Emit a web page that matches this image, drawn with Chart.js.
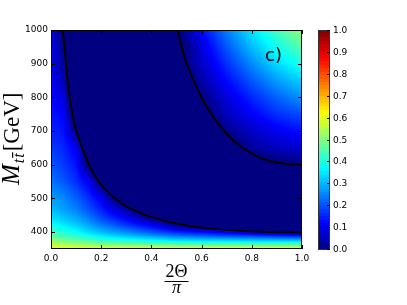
<!DOCTYPE html>
<html>
<head>
<meta charset="utf-8">
<script src="https://cdn.jsdelivr.net/npm/chart.js@4.4.0/dist/chart.umd.min.js"></script>
<style>
  html, body { margin: 0; padding: 0; background: #fff; }
  canvas { display: block; }
</style>
</head>
<body>
<canvas id="chart" width="407" height="305"></canvas>
<script>
// --------------------------------------------
// Data
// --------------------------------------------

// grid positions of the colour field
const thetaCols = [0, 0.05, 0.1, 0.15, 0.2, 0.3, 0.4, 0.5, 0.6, 0.7, 0.8, 0.9, 1.0];
const massRows = [350, 360, 370, 380, 390, 400, 420, 440, 470, 500, 550, 600, 650, 700, 750, 800, 850, 900, 950, 1000];

// estimated field values, one row per mass (<= 0 shows as dark navy)
const row350  = [0.63, 0.62, 0.62, 0.62, 0.62, 0.62, 0.62, 0.62, 0.62, 0.62, 0.62, 0.62, 0.62];
const row360  = [0.58, 0.56, 0.55, 0.54, 0.53, 0.52, 0.51, 0.50, 0.50, 0.50, 0.50, 0.50, 0.50];
const row370  = [0.54, 0.51, 0.50, 0.48, 0.46, 0.44, 0.42, 0.40, 0.39, 0.39, 0.38, 0.38, 0.38];
const row380  = [0.50, 0.47, 0.45, 0.43, 0.40, 0.37, 0.34, 0.31, 0.30, 0.29, 0.28, 0.27, 0.26];
const row390  = [0.47, 0.43, 0.41, 0.38, 0.35, 0.31, 0.27, 0.23, 0.21, 0.19, 0.17, 0.15, 0.13];
const row400  = [0.44, 0.41, 0.38, 0.34, 0.31, 0.26, 0.21, 0.16, 0.13, 0.10, 0.06, 0.02, -0.005];
const row420  = [0.39, 0.36, 0.33, 0.29, 0.25, 0.18, 0.12, 0.02, -0.04, -0.06, -0.08, -0.09, -0.10];
const row440  = [0.35, 0.32, 0.29, 0.25, 0.20, 0.12, 0.02, -0.08, -0.10, -0.11, -0.12, -0.12, -0.12];
const row470  = [0.31, 0.28, 0.25, 0.20, 0.15, 0.03, -0.12, -0.14, -0.15, -0.15, -0.15, -0.15, -0.15];
const row500  = [0.28, 0.26, 0.22, 0.17, 0.11, -0.10, -0.15, -0.17, -0.17, -0.17, -0.17, -0.17, -0.17];
const row550  = [0.24, 0.21, 0.17, 0.11, -0.01, -0.14, -0.17, -0.18, -0.18, -0.17, -0.15, -0.13, -0.11];
const row600  = [0.21, 0.18, 0.14, -0.01, -0.08, -0.16, -0.18, -0.17, -0.12, -0.08, -0.06, -0.015, 0.00];
const row650  = [0.18, 0.16, 0.11, -0.07, -0.12, -0.17, -0.17, -0.12, -0.08, -0.05, 0.03, 0.06, 0.08];
const row700  = [0.16, 0.14, 0.02, -0.10, -0.14, -0.17, -0.15, -0.10, -0.08, 0.01, 0.07, 0.11, 0.14];
const row750  = [0.145, 0.12, -0.06, -0.13, -0.15, -0.16, -0.13, -0.10, -0.04, 0.06, 0.12, 0.17, 0.20];
const row800  = [0.13, 0.09, -0.10, -0.14, -0.16, -0.15, -0.12, -0.08, 0.00, 0.09, 0.16, 0.22, 0.27];
const row850  = [0.12, 0.05, -0.12, -0.15, -0.16, -0.14, -0.11, -0.06, 0.04, 0.13, 0.21, 0.28, 0.33];
const row900  = [0.11, 0.03, -0.14, -0.16, -0.16, -0.13, -0.10, -0.04, 0.07, 0.17, 0.26, 0.34, 0.40];
const row950  = [0.105, 0.015, -0.15, -0.17, -0.16, -0.13, -0.09, -0.05, 0.09, 0.21, 0.31, 0.39, 0.46];
const row1000 = [0.10, -0.02, -0.16, -0.17, -0.16, -0.12, -0.08, -0.01, 0.13, 0.25, 0.35, 0.44, 0.52];

const fieldRows = [row350, row360, row370, row380, row390, row400, row420, row440, row470, row500,
                   row550, row600, row650, row700, row750, row800, row850, row900, row950, row1000];

// black contour lines
const lowerTheta = [0.0465, 0.056, 0.069, 0.089, 0.122, 0.155, 0.195, 0.262, 0.328, 0.394, 0.527, 0.66, 0.793, 1.0];
const lowerMass  = [1000, 931, 832, 733, 654, 594, 545, 496, 466, 446, 421, 409, 403, 399];
const upperTheta = [0.505, 0.527, 0.567, 0.62, 0.687, 0.766, 0.859, 0.926, 1.0];
const upperMass  = [1000, 931, 852, 772, 703, 649, 614, 604, 601];

// ticks
const xTicks = [0, 0.2, 0.4, 0.6, 0.8, 1.0];
const yTicks = [400, 500, 600, 700, 800, 900, 1000];
const barTicks = [0, 0.1, 0.2, 0.3, 0.4, 0.5, 0.6, 0.7, 0.8, 0.9, 1.0];

// --------------------------------------------
// Helpers
// --------------------------------------------

function clamp01(v) {
    return Math.max(0, Math.min(1, v));
}

// matplotlib "jet"-like colour map
function jet(v) {
    v = clamp01(v);
    return [
        Math.round(255 * clamp01(1.5 - Math.abs(4 * v - 3))),
        Math.round(255 * clamp01(1.5 - Math.abs(4 * v - 2))),
        Math.round(255 * clamp01(1.5 - Math.abs(4 * v - 1)))
    ];
}

function findCell(arr, v) {
    let i = 0;
    while (i < arr.length - 2 && v > arr[i + 1]) i++;
    const t = clamp01((v - arr[i]) / (arr[i + 1] - arr[i]));
    return [i, t];
}

function fieldAt(theta, mass) {
    const [i, ti] = findCell(thetaCols, theta);
    const [j, tj] = findCell(massRows, mass);
    const a = fieldRows[j][i], b = fieldRows[j][i + 1];
    const c = fieldRows[j + 1][i], d = fieldRows[j + 1][i + 1];
    const lo = a + (b - a) * ti;
    const hi = c + (d - c) * ti;
    return lo + (hi - lo) * tj;
}

// --------------------------------------------
// Plugins
// --------------------------------------------

// colour field painted pixel by pixel through the chart scales
const heatmapPlugin = {
    id: 'heatmap',
    beforeDatasetsDraw(chart) {
        const { ctx, chartArea: area, scales: { x, y } } = chart;
        const w = Math.round(area.right - area.left);
        const h = Math.round(area.bottom - area.top);
        const off = document.createElement('canvas');
        off.width = w;
        off.height = h;
        const octx = off.getContext('2d');
        const img = octx.createImageData(w, h);

        for (let py = 0; py < h; py++) {
            const mass = y.getValueForPixel(area.top + py + 0.5);
            for (let px = 0; px < w; px++) {
                const theta = x.getValueForPixel(area.left + px + 0.5);
                const [r, g, b] = jet(fieldAt(theta, mass));
                const k = (py * w + px) * 4;
                img.data[k] = r;
                img.data[k + 1] = g;
                img.data[k + 2] = b;
                img.data[k + 3] = 255;
            }
        }
        octx.putImageData(img, 0, 0);
        ctx.drawImage(off, area.left, area.top);
    }
};

// frame and inward ticks on all four sides
const framePlugin = {
    id: 'frame',
    afterDatasetsDraw(chart) {
        const { ctx, chartArea: a, scales: { x, y } } = chart;
        ctx.save();
        ctx.strokeStyle = '#000';
        ctx.lineWidth = 1;
        ctx.beginPath();
        xTicks.forEach(v => {
            const px = Math.round(x.getPixelForValue(v)) + 0.5;
            ctx.moveTo(px, a.bottom); ctx.lineTo(px, a.bottom - 4);
            ctx.moveTo(px, a.top); ctx.lineTo(px, a.top + 4);
        });
        yTicks.forEach(v => {
            const py = Math.round(y.getPixelForValue(v)) + 0.5;
            ctx.moveTo(a.left, py); ctx.lineTo(a.left + 4, py);
            ctx.moveTo(a.right, py); ctx.lineTo(a.right - 4, py);
        });
        ctx.stroke();
        ctx.strokeRect(a.left + 0.5, a.top + 0.5, a.right - a.left - 1, a.bottom - a.top - 1);
        ctx.restore();
    }
};

// axis titles, panel label and colour bar
const decorPlugin = {
    id: 'decor',
    afterDraw(chart) {
        const { ctx, chartArea: a } = chart;
        ctx.save();
        ctx.fillStyle = '#000';

        // panel label
        ctx.font = '18px "DejaVu Sans"';
        ctx.textAlign = 'left';
        ctx.textBaseline = 'alphabetic';
        ctx.fillText('c)', 265, 61);

        // y title: M_{t tbar} [GeV]
        ctx.save();
        ctx.translate(19, 185);
        ctx.rotate(-Math.PI / 2);
        ctx.font = 'italic 25px "Liberation Serif"';
        ctx.fillText('M', 0, 0);
        let pos = ctx.measureText('M').width + 1;
        ctx.font = 'italic 16px "Liberation Serif"';
        ctx.fillText('t', pos, 5);
        const tw = ctx.measureText('t').width;
        ctx.fillText('t', pos + tw + 1, 5);
        ctx.fillRect(pos + tw + 1, -7, tw + 1, 1.2);
        pos += 2 * tw + 3;
        ctx.font = '23px "Liberation Serif"';
        ctx.fillText('[GeV]', pos, 0);
        ctx.restore();

        // x title: 2Θ / π
        const cx = (a.left + a.right) / 2;
        ctx.textAlign = 'center';
        ctx.font = '18px "Liberation Serif"';
        ctx.fillText('2\u0398', cx, 277);
        ctx.fillRect(cx - 12, 281, 24, 1);
        ctx.font = 'italic 18px "Liberation Serif"';
        ctx.fillText('\u03c0', cx, 293);

        // colour bar
        const bx = 318, bw = 12, top = a.top, bottom = a.bottom + 1;
        const levels = 64;
        for (let i = 0; i < levels; i++) {
            const [r, g, b] = jet((i + 0.5) / levels);
            ctx.fillStyle = `rgb(${r},${g},${b})`;
            const y0 = bottom - (i + 1) * (bottom - top) / levels;
            const y1 = bottom - i * (bottom - top) / levels;
            ctx.fillRect(bx, Math.floor(y0), bw, Math.ceil(y1) - Math.floor(y0));
        }
        ctx.strokeStyle = '#333';
        ctx.lineWidth = 1;
        ctx.strokeRect(bx + 0.5, top + 0.5, bw - 1, bottom - top - 1);

        ctx.fillStyle = '#000';
        ctx.strokeStyle = '#000';
        ctx.font = '9px "DejaVu Sans"';
        ctx.textAlign = 'left';
        ctx.textBaseline = 'middle';
        barTicks.forEach(v => {
            const py = Math.round(bottom - 1 - v * (bottom - 1 - top)) + 0.5;
            ctx.beginPath();
            ctx.moveTo(bx + bw - 3, py);
            ctx.lineTo(bx + bw, py);
            ctx.stroke();
            ctx.fillText(v.toFixed(1), bx + bw + 3, py);
        });
        ctx.restore();
    }
};

// --------------------------------------------
// Chart
// --------------------------------------------

Chart.defaults.font.family = '"DejaVu Sans", sans-serif';
Chart.defaults.font.size = 9;
Chart.defaults.color = '#000';

const lineStyle = {
    showLine: true,
    borderColor: '#000',
    borderWidth: 2,
    pointRadius: 0,
    fill: false,
    cubicInterpolationMode: 'monotone'
};

new Chart(document.getElementById('chart').getContext('2d'), {
    type: 'scatter',
    data: {
        datasets: [
            { ...lineStyle, data: lowerTheta.map((t, i) => ({ x: t, y: lowerMass[i] })) },
            { ...lineStyle, data: upperTheta.map((t, i) => ({ x: t, y: upperMass[i] })) }
        ]
    },
    options: {
        responsive: false,
        animation: false,
        events: [],
        layout: { padding: { top: 30, right: 105, left: 0, bottom: 0 } },
        plugins: {
            legend: { display: false },
            tooltip: { enabled: false }
        },
        scales: {
            x: {
                type: 'linear',
                min: 0,
                max: 1,
                grid: { display: false, drawTicks: false },
                border: { display: false },
                ticks: { padding: 4, callback: v => Number(v).toFixed(1) },
                afterBuildTicks: s => { s.ticks = xTicks.map(v => ({ value: v })); },
                afterFit: s => { s.height = 56; }
            },
            y: {
                type: 'linear',
                min: 350,
                max: 1000,
                grid: { display: false, drawTicks: false },
                border: { display: false },
                ticks: { padding: 3, callback: v => String(v) },
                afterBuildTicks: s => { s.ticks = yTicks.map(v => ({ value: v })); },
                afterFit: s => { s.width = 51; }
            }
        }
    },
    plugins: [heatmapPlugin, framePlugin, decorPlugin]
});
</script>
</body>
</html>
